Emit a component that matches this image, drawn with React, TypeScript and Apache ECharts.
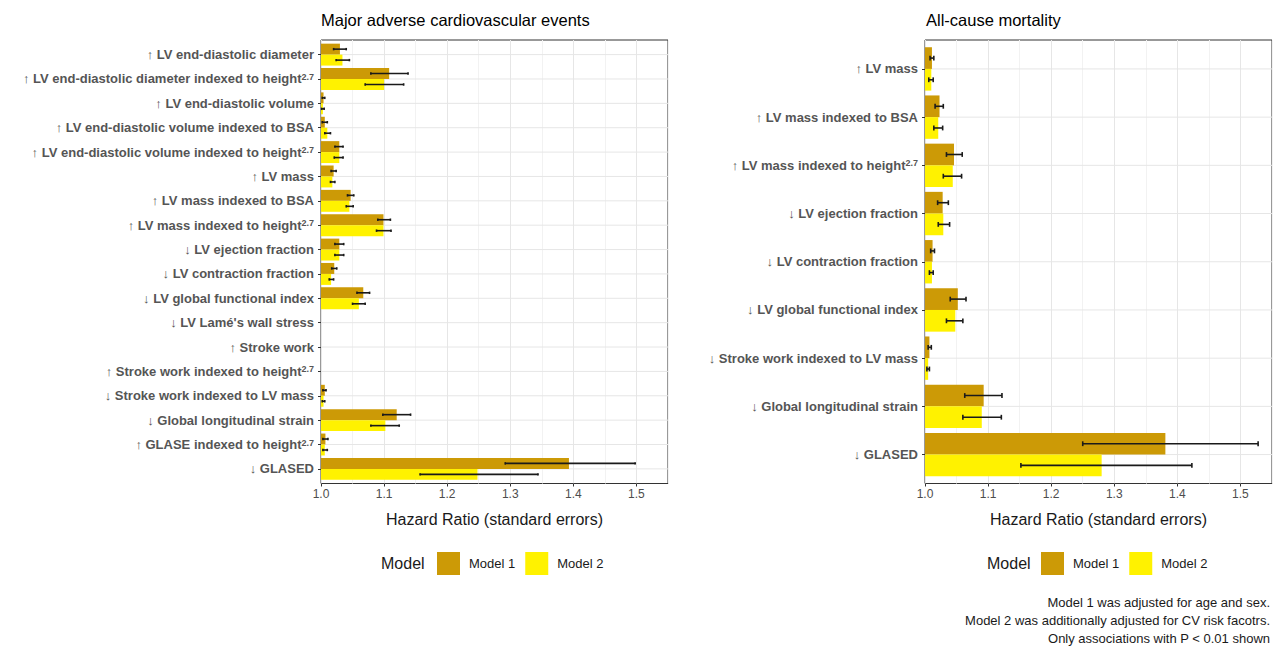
import React, { useEffect, useRef } from 'react';
import * as echarts from 'echarts';

const FONT = "'Liberation Sans', 'DejaVu Sans', Arial, Helvetica, sans-serif";
const COLOR_M1 = '#CC9A06';
const COLOR_M2 = '#FFF200';

// ---------- Data: Major adverse cardiovascular events ----------
const maceCategories = [
  '↑ LV end-diastolic diameter',
  '↑ LV end-diastolic diameter indexed to height^2.7',
  '↑ LV end-diastolic volume',
  '↑ LV end-diastolic volume indexed to BSA',
  '↑ LV end-diastolic volume indexed to height^2.7',
  '↑ LV mass',
  '↑ LV mass indexed to BSA',
  '↑ LV mass indexed to height^2.7',
  '↓ LV ejection fraction',
  '↓ LV contraction fraction',
  '↓ LV global functional index',
  "↓ LV Lamé's wall stress",
  '↑ Stroke work',
  '↑ Stroke work indexed to height^2.7',
  '↓ Stroke work indexed to LV mass',
  '↓ Global longitudinal strain',
  '↑ GLASE indexed to height^2.7',
  '↓ GLASED',
];
const maceModel1 = [1.030, 1.108, 1.004, 1.006, 1.029, 1.020, 1.047, 1.099, 1.029, 1.021, 1.067, null, null, null, 1.006, 1.120, 1.007, 1.393];
const maceModel1Low = [1.020, 1.079, 1.002, 1.002, 1.022, 1.016, 1.042, 1.090, 1.022, 1.017, 1.057, null, null, null, 1.003, 1.098, 1.003, 1.292];
const maceModel1High = [1.040, 1.138, 1.006, 1.010, 1.035, 1.024, 1.052, 1.110, 1.036, 1.025, 1.077, null, null, null, 1.008, 1.142, 1.011, 1.498];
const maceModel2 = [1.034, 1.100, 1.003, 1.010, 1.029, 1.018, 1.045, 1.099, 1.029, 1.016, 1.060, null, null, null, 1.004, 1.102, 1.006, 1.248];
const maceModel2Low = [1.024, 1.070, 1.001, 1.006, 1.021, 1.015, 1.040, 1.088, 1.022, 1.013, 1.050, null, null, null, 1.002, 1.079, 1.003, 1.157];
const maceModel2High = [1.045, 1.131, 1.005, 1.015, 1.035, 1.022, 1.051, 1.111, 1.036, 1.020, 1.070, null, null, null, 1.006, 1.124, 1.010, 1.344];

// ---------- Data: All-cause mortality ----------
const mortCategories = [
  '↑ LV mass',
  '↑ LV mass indexed to BSA',
  '↑ LV mass indexed to height^2.7',
  '↓ LV ejection fraction',
  '↓ LV contraction fraction',
  '↓ LV global functional index',
  '↓ Stroke work indexed to LV mass',
  '↓ Global longitudinal strain',
  '↓ GLASED',
];
const mortModel1 = [1.011, 1.023, 1.046, 1.028, 1.012, 1.052, 1.007, 1.093, 1.381];
const mortModel1Low = [1.008, 1.016, 1.034, 1.020, 1.009, 1.040, 1.005, 1.063, 1.250];
const mortModel1High = [1.014, 1.029, 1.059, 1.037, 1.015, 1.065, 1.010, 1.122, 1.528];
const mortModel2 = [1.010, 1.021, 1.044, 1.029, 1.011, 1.048, 1.005, 1.090, 1.280];
const mortModel2Low = [1.006, 1.014, 1.029, 1.021, 1.007, 1.034, 1.003, 1.060, 1.152];
const mortModel2High = [1.013, 1.028, 1.058, 1.039, 1.013, 1.060, 1.007, 1.121, 1.423];

const xTickValues = [1.0, 1.1, 1.2, 1.3, 1.4, 1.5];
const legendNames = ['Model 1', 'Model 2'];
const panelTitles = ['Major adverse cardiovascular events', 'All-cause mortality'];
const xAxisTitle = 'Hazard Ratio (standard errors)';
const footnoteLines = [
  'Model 1 was adjusted for age and sex.',
  'Model 2 was additionally adjusted for CV risk facotrs.',
  'Only associations with P < 0.01 shown',
];

const X_MIN = 1.0;
const X_MAX = 1.55;

function buildPanel(p: number, left: number, cats: string[], m1: any[], m1lo: any[], m1hi: any[], m2: any[], m2lo: any[], m2hi: any[]) {
  const bgTop = 40;
  const bgHeight = 443.5;
  const width = 347;
  const band = bgHeight / (cats.length + 0.2);
  const dataTop = bgTop + 0.1 * band;
  const dataHeight = band * cats.length;

  const grids = [
    { left, top: bgTop, width, height: bgHeight, show: true, borderColor: '#333333', borderWidth: 1, backgroundColor: '#ffffff' },
    { left, top: dataTop, width, height: dataHeight },
  ];
  const gBg = p * 2;
  const gData = p * 2 + 1;
  const xBase = p * 3;

  const xAxes = [
    {
      type: 'value', gridIndex: gBg, min: X_MIN, max: X_MAX, interval: 0.05,
      axisLine: { show: false }, axisTick: { show: false }, axisLabel: { show: false },
      splitLine: { show: true, lineStyle: { color: ['#E6E6E6', '#F2F2F2'], width: 1 } },
    },
    {
      type: 'value', gridIndex: gBg, min: X_MIN, max: X_MAX, interval: 0.1, position: 'bottom',
      axisLine: { show: false },
      axisTick: { show: true, length: 3, customValues: xTickValues, lineStyle: { color: '#333333', width: 1 } },
      axisLabel: {
        show: true, customValues: xTickValues, margin: 4,
        formatter: (v: number) => v.toFixed(1), color: '#4D4D4D', fontSize: 12, fontFamily: FONT,
      },
      splitLine: { show: false },
      name: xAxisTitle, nameLocation: 'middle', nameGap: 28,
      nameTextStyle: { fontSize: 16, color: '#1a1a1a', fontFamily: FONT },
    },
    {
      type: 'value', gridIndex: gData, min: X_MIN, max: X_MAX, show: false, startValue: 1,
    },
  ];
  const yAxes = [
    { type: 'value', gridIndex: gBg, show: false, min: 0, max: 1 },
    {
      type: 'category', gridIndex: gData, data: cats, inverse: true,
      axisLine: { show: false },
      axisTick: { show: true, alignWithLabel: true, length: 3, lineStyle: { color: '#333333', width: 1 } },
      splitLine: { show: false },
      axisLabel: {
        margin: 7, color: '#555555', fontSize: 13, fontWeight: 'bold', fontFamily: FONT,
        formatter: (v: string) => v.replace('^2.7', '{sup|2.7}'),
        rich: { sup: { fontSize: 9, fontWeight: 'bold', color: '#555555', fontFamily: FONT, verticalAlign: 'top' } },
      },
    },
  ];

  const errData: any[] = [];
  cats.forEach((_, i) => {
    if (m1lo[i] != null) errData.push([m1lo[i], m1hi[i], i, 0]);
    if (m2lo[i] != null) errData.push([m2lo[i], m2hi[i], i, 1]);
  });

  const series = [
    {
      type: 'custom', name: 'gridlines' + p, xAxisIndex: xBase + 2, yAxisIndex: gData, silent: true, z: 1,
      data: cats.map((_, i) => [X_MIN, i]), encode: { x: 0, y: 1 },
      renderItem: (params: any, api: any) => {
        const y = api.coord([X_MIN, api.value(1)])[1];
        const cs = params.coordSys;
        return { type: 'line', shape: { x1: cs.x, y1: y, x2: cs.x + cs.width, y2: y }, style: { stroke: '#E6E6E6', lineWidth: 1 } };
      },
    },
    {
      type: 'bar', name: legendNames[0], xAxisIndex: xBase + 2, yAxisIndex: gData, data: m1,
      barGap: '0%', barCategoryGap: '10%', itemStyle: { color: COLOR_M1 }, z: 2,
    },
    {
      type: 'bar', name: legendNames[1], xAxisIndex: xBase + 2, yAxisIndex: gData, data: m2,
      barGap: '0%', barCategoryGap: '10%', itemStyle: { color: COLOR_M2 }, z: 2,
    },
    {
      type: 'custom', name: 'errors' + p, xAxisIndex: xBase + 2, yAxisIndex: gData, silent: true, z: 3,
      data: errData, encode: { x: [0, 1], y: 2 },
      renderItem: (params: any, api: any) => {
        const lo = api.value(0), hi = api.value(1), cat = api.value(2), model = api.value(3);
        const a = api.coord([lo, cat]);
        const b = api.coord([hi, cat]);
        const bw = api.size([0, 1])[1];
        const y = a[1] + (model === 0 ? -0.225 : 0.225) * bw;
        const h = Math.max(1, bw * 0.05);
        const style = { stroke: '#1a1a1a', lineWidth: 1.6 };
        return {
          type: 'group', children: [
            { type: 'line', shape: { x1: a[0], y1: y, x2: b[0], y2: y }, style },
            { type: 'line', shape: { x1: a[0], y1: y - h, x2: a[0], y2: y + h }, style },
            { type: 'line', shape: { x1: b[0], y1: y - h, x2: b[0], y2: y + h }, style },
          ],
        };
      },
    },
  ];
  return { grids, xAxes, yAxes, series };
}

export default function App() {
  const ref = useRef<HTMLDivElement>(null);
  useEffect(() => {
    if (!ref.current) return;
    const chart = echarts.init(ref.current, undefined, { renderer: 'svg' });
    const p0 = buildPanel(0, 321, maceCategories, maceModel1, maceModel1Low, maceModel1High, maceModel2, maceModel2Low, maceModel2High);
    const p1 = buildPanel(1, 925, mortCategories, mortModel1, mortModel1Low, mortModel1High, mortModel2, mortModel2Low, mortModel2High);

    const legendCommon = {
      data: legendNames, orient: 'horizontal', itemWidth: 23, itemHeight: 23, itemGap: 10, icon: 'rect', padding: 0,
      selectedMode: false, textStyle: { fontSize: 13, color: '#1a1a1a', fontFamily: FONT, padding: [0, 0, 0, 4] },
    };

    const footStyle = { fontSize: 13, fill: '#1a1a1a', fontFamily: FONT, align: 'right', verticalAlign: 'middle' };

    const option: any = {
      animation: false,
      backgroundColor: '#ffffff',
      textStyle: { fontFamily: FONT },
      grid: [...p0.grids, ...p1.grids],
      xAxis: [...p0.xAxes, ...p1.xAxes],
      yAxis: [...p0.yAxes, ...p1.yAxes],
      series: [...p0.series, ...p1.series],
      legend: [
        { ...legendCommon, left: 437, top: 552 },
        { ...legendCommon, left: 1041, top: 552 },
      ],
      graphic: [
        { type: 'text', left: 321, top: 11, style: { text: panelTitles[0], fontSize: 16.5, fill: '#000', fontFamily: FONT } },
        { type: 'text', left: 926, top: 11, style: { text: panelTitles[1], fontSize: 16.5, fill: '#000', fontFamily: FONT } },
        { type: 'text', left: 381, top: 555, style: { text: 'Model', fontSize: 16, fill: '#1a1a1a', fontFamily: FONT } },
        { type: 'text', left: 987, top: 555, style: { text: 'Model', fontSize: 16, fill: '#1a1a1a', fontFamily: FONT } },
        ...footnoteLines.map((t, i) => ({ type: 'text', x: 1270, y: 602 + i * 18, style: { ...footStyle, text: t } })),
      ],
    };
    chart.setOption(option);
    return () => chart.dispose();
  }, []);
  return <div ref={ref} style={{ position: 'fixed', left: 0, top: 0, width: 1275, height: 646, background: '#fff' }} />;
}
